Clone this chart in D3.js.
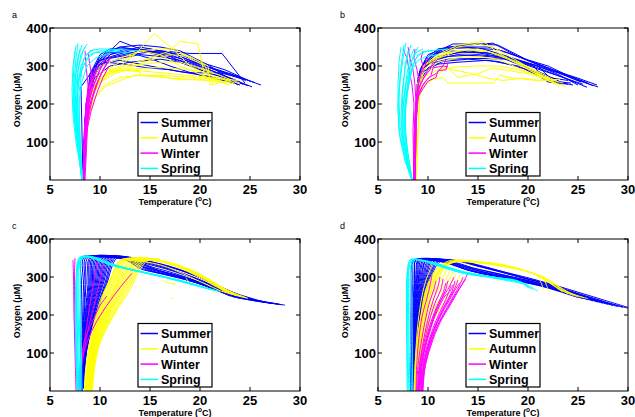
<!DOCTYPE html>
<html>
<head>
<meta charset="utf-8">
<script src="https://cdn.jsdelivr.net/npm/d3@7/dist/d3.min.js"></script>
<style>
  html, body { margin: 0; padding: 0; background: #fff; }
  svg { display: block; }
  text { font-family: "Liberation Sans", Arial, Helvetica, sans-serif; }
</style>
</head>
<body>
<svg id="chart" width="635" height="417"></svg>
<script>
// ---- shared labels ----
const seasons = ["Summer", "Autumn", "Winter", "Spring"];
const seasonColors = ["#0000ff", "#ffff00", "#ff00ff", "#00ffff"];
const tempTicks = [5, 10, 15, 20, 25, 30];
const oxygenTicks = [100, 200, 300, 400];
const panelLetters = ["a", "b", "c", "d"];

// ---- profiles: each is a list of [temperature °C, oxygen µM], surface to depth ----
// panel a (observed)
const aSummer = [
  [[26.1,250],[24,270],[21,295],[18,320],[15,338],[12.5,345],[11,330],[10,300],[9.2,260],[8.7,180],[8.4,80],[8.3,0]],
  [[25.2,245],[23,268],[20,300],[17,330],[14,345],[12,365],[11,340],[9.8,310],[9,250],[8.6,150],[8.3,0]],
  [[24.5,255],[22.2,333],[19,333],[16,340],[13,330],[11,320],[9.5,290],[8.8,220],[8.4,100],[8.3,0]],
  [[24.6,262],[22,285],[19.5,310],[17,335],[15,345],[13,340],[10.5,320],[9.3,285],[8.7,200],[8.3,0]],
  [[24,258],[21,290],[18,315],[16,325],[14,330],[12,320],[10,300],[9,250],[8.5,150],[8.3,0]],
  [[23.5,262],[21,280],[19,300],[17,320],[15,335],[13,345],[11,345],[10,330],[9,280],[8.5,160],[8.3,0]],
  [[24.2,268],[22,282],[19,282],[18,285],[15,300],[12,315],[10,305],[9,260],[8.5,140],[8.3,0]],
  [[23.8,250],[21,300],[18,340],[16,350],[14,355],[12,350],[10.5,335],[9.5,300],[8.8,230],[8.4,100],[8.3,0]],
  [[25,260],[22.5,290],[20,310],[18,330],[16,340],[14,350],[11,330],[9.5,280],[8.7,180],[8.3,0]],
  [[24.3,252],[22,275],[20,295],[18,310],[16,318],[13,310],[11,300],[9.5,270],[8.9,240],[8.5,120],[8.3,0]],
  [[23.5,255],[21,270],[19,283],[17,300],[15,320],[13,335],[11,335],[9.5,300],[8.7,200],[8.3,0]],
  [[24.8,248],[23,265],[20,290],[17,325],[14.5,340],[12,350],[10,325],[9,270],[8.5,160],[8.3,0]],
  [[25.5,256],[23,280],[20,305],[18,325],[17,335],[14,340],[11.5,325],[10,315],[9.3,290],[8.1,245],[8.3,0]],
  [[24,250],[22,268],[19,281],[17,290],[14.5,296],[12.5,305],[10.5,310],[9.2,280],[8.6,200],[8.3,0]]
];
const aAutumn = [
  [[23.5,255],[21,275],[19,300],[17.5,340],[15.4,385],[13.5,330],[12,300],[10.5,280],[9.5,250],[8.8,190],[8.4,80],[8.3,0]],
  [[23.3,253],[20.5,270],[19.8,358],[18,365],[17,340],[15,320],[13,305],[11,290],[9.5,250],[8.7,170],[8.3,0]],
  [[23,262],[21,250],[20.8,300],[19,325],[17,330],[15,315],[13,295],[11,280],[9.8,250],[8.8,200],[8.4,0]],
  [[22.5,258],[20,263],[17,268],[14,275],[12,270],[10.5,250],[9.5,220],[8.8,160],[8.4,0]],
  [[23.8,262],[21.5,268],[19,275],[17,280],[15,285],[13,290],[11,285],[10,265],[9,220],[8.5,100],[8.4,0]],
  [[22,270],[20,264],[18,264],[15.5,275],[14,275],[14,285],[12,290],[10.5,275],[9.3,240],[8.6,150],[8.4,0]],
  [[24,255],[22,275],[20,295],[18,310],[16,310],[13,300],[11,285],[9.5,245],[8.7,160],[8.3,0]],
  [[23,250],[21.5,262],[18,300],[16,330],[14,340],[12,320],[10,300],[9,250],[8.5,120],[8.3,0]],
  [[21.3,252],[20.5,300],[19,320],[17.5,345],[16,345],[14,340],[12,310],[10,280],[9,230],[8.5,130],[8.3,0]],
  [[22,265],[19,270],[16.5,275],[13.5,276],[12,262],[10.5,245],[9.3,210],[8.7,140],[8.4,0]],
  [[21.5,280],[19,290],[16,296],[13,292],[11.5,280],[10.3,262],[9.4,232],[8.8,180],[8.4,0]]
];
const aWinter = [
  [[11.1,325],[10.5,300],[9.8,260],[9.2,210],[8.8,160],[8.5,100],[8.4,0]],
  [[11,318],[10.3,290],[9.6,250],[9,200],[8.7,150],[8.4,0]],
  [[10.8,310],[10.1,280],[9.5,240],[8.9,190],[8.6,140],[8.4,0]],
  [[10.6,322],[10,290],[9.4,250],[8.9,210],[8.6,160],[8.4,0]],
  [[10.3,305],[9.8,280],[9.2,240],[8.8,190],[8.5,120],[8.35,0]],
  [[10,312],[9.6,290],[9.1,250],[8.7,200],[8.5,140],[8.35,0]],
  [[9.8,300],[9.4,270],[9,230],[8.7,180],[8.4,0]],
  [[9.5,295],[9.1,260],[8.8,220],[8.5,150],[8.35,0]],
  [[9.2,285],[8.9,250],[8.6,200],[8.4,120],[8.3,0]],
  [[8.5,340],[8.6,300],[8.8,250],[8.6,180],[8.4,0]],
  [[8.8,335],[9,300],[9.2,270],[8.9,220],[8.5,0]],
  [[10.9,300],[10.3,270],[9.7,230],[9.1,180],[8.6,120],[8.4,0]]
];
const aSpring = [
  [[7.8,360],[7.6,320],[7.4,260],[7.3,200],[7.5,140],[7.9,60],[8.2,0]],
  [[8.2,355],[7.9,330],[7.6,280],[7.4,220],[7.5,160],[7.8,80],[8.2,0]],
  [[8.7,358],[8.3,340],[7.9,300],[7.6,250],[7.5,180],[7.8,100],[8.2,0]],
  [[7.5,340],[7.3,300],[7.2,240],[7.3,170],[7.6,100],[8,40],[8.2,0]],
  [[12,340],[10,340],[9,330],[8.3,300],[7.8,250],[7.6,180],[7.9,80],[8.2,0]],
  [[14,340],[12,343],[10,345],[9,340],[8.4,320],[7.9,270],[7.6,200],[7.8,120],[8.2,0]],
  [[8.5,350],[8.1,330],[7.8,290],[7.7,230],[7.8,160],[8,80],[8.25,0]],
  [[9.5,345],[8.6,330],[8.1,300],[7.8,250],[7.7,190],[7.9,100],[8.2,0]],
  [[8,345],[7.7,310],[7.5,260],[7.5,200],[7.7,130],[8,50],[8.2,0]],
  [[11,335],[9.5,320],[8.7,300],[8.2,260],[7.9,200],[8,120],[8.2,0]],
  [[7.6,355],[7.4,310],[7.3,250],[7.4,190],[7.7,110],[8.1,30],[8.2,0]],
  [[13,335],[11,338],[9.5,335],[8.7,320],[8.2,290],[7.9,230],[7.9,150],[8.1,60],[8.25,0]]
];

// panel b (observed)
const bSummer = [
  [[27,245],[25,262],[22,295],[20,315],[17,355],[15,358],[12.5,358],[11,340],[10,315],[9.2,280],[8.9,220],[8.7,100],[8.6,0]],
  [[26.9,250],[25,268],[23,285],[21,305],[18,335],[16,350],[13,350],[11,335],[9.5,300],[8.9,230],[8.7,0]],
  [[25.9,244],[24,265],[22,285],[20,305],[17,330],[14,340],[12,330],[10.5,315],[9.3,290],[8.8,200],[8.6,0]],
  [[25.5,252],[23.5,270],[21,292],[18,320],[16,335],[13,335],[11,325],[9.8,305],[9,260],[8.7,120],[8.6,0]],
  [[24.5,250],[22.5,260],[21,300],[19,315],[16,325],[13,330],[11,320],[9.5,295],[8.9,250],[8.7,0]],
  [[24.3,255],[22,262],[20.5,300],[18,318],[15,320],[12,318],[10,305],[9.2,270],[8.8,180],[8.6,0]],
  [[24,252],[22,258],[21,275],[19,300],[16,315],[13,310],[11,305],[9.5,285],[8.9,230],[8.7,0]],
  [[23.5,255],[21.5,280],[19,305],[17,325],[15,335],[12,340],[10.5,330],[9.5,305],[8.9,250],[8.7,0]],
  [[26,255],[24,275],[22,300],[19.5,320],[17,343],[14,348],[11.5,345],[10,330],[9.2,290],[8.8,200],[8.6,0]],
  [[25,250],[23,278],[21,300],[18,325],[15.5,345],[13,352],[11,345],[9.8,320],[9.1,280],[8.8,150],[8.7,0]],
  [[24,262],[22.5,268],[20,290],[17,312],[14,318],[11.5,312],[10,295],[9.2,260],[8.8,160],[8.6,0]],
  [[25.3,258],[23,282],[20.5,303],[18,322],[15,330],[12,325],[10,310],[9,270],[8.7,150],[8.6,0]],
  [[26.5,248],[24.5,270],[22,292],[19,325],[16.5,360],[14,355],[12,350],[10.5,330],[9.4,300],[8.9,240],[8.7,0]]
];
const bAutumn = [
  [[23.8,245],[22,262],[20.5,263],[18,270],[17.2,276],[16.5,255],[14,255],[12,255],[11.5,270],[10.5,265],[9.5,245],[8.9,200],[8.7,0]],
  [[23.5,255],[21.5,270],[19,305],[17,335],[15.5,365],[13,355],[11,330],[9.5,300],[8.9,240],[8.7,0]],
  [[23,258],[21,285],[19,310],[17,330],[15,345],[13,340],[11,320],[9.5,290],[8.9,230],[8.7,0]],
  [[22.5,262],[21,275],[19,290],[17,300],[15,300],[13,298],[11,290],[9.5,270],[8.9,220],[8.7,0]],
  [[23,250],[21.5,268],[19,295],[17,318],[15,325],[13,322],[11,310],[9.5,280],[8.8,200],[8.7,0]],
  [[22,265],[20,280],[18,288],[16.5,295],[15,280],[13,270],[12,295],[11,280],[10,260],[9.2,230],[8.8,0]],
  [[21.8,268],[20,295],[18,318],[16,338],[14,342],[12,335],[10.5,315],[9.3,280],[8.8,200],[8.7,0]],
  [[23.2,265],[21,262],[19.5,268],[17.5,262],[16,268],[14,282],[12.5,290],[11,300],[10,285],[9.2,250],[8.8,0]],
  [[22.8,255],[20.5,290],[18.5,320],[16.5,350],[15,358],[13,350],[11,325],[9.6,300],[8.9,250],[8.7,0]]
];
const bWinter = [
  [[12,310],[11.8,290],[11,288],[10.8,270],[10,260],[9.5,240],[9,220],[8.8,150],[8.7,0]],
  [[11.8,318],[11.5,300],[10.5,295],[10.3,275],[9.6,255],[9.1,230],[8.8,180],[8.7,0]],
  [[12,298],[11.5,300],[10.8,280],[10,268],[9.4,245],[8.9,210],[8.7,0]],
  [[11,320],[10.6,305],[10,290],[9.5,265],[9,235],[8.7,180],[8.6,0]],
  [[9.5,340],[9.3,320],[9.5,300],[9.2,270],[8.9,240],[8.7,160],[8.6,0]],
  [[7.5,345],[7.9,320],[8.1,290],[8.4,250],[8.6,200],[8.5,130],[8.6,0]],
  [[8,350],[8.2,320],[8.5,290],[8.7,250],[8.8,200],[8.6,0]],
  [[10.5,310],[10.2,290],[9.6,270],[9.2,250],[8.9,220],[8.7,150],[8.6,0]],
  [[8.7,345],[8.6,320],[8.9,290],[9.1,260],[8.9,220],[8.6,120],[8.6,0]],
  [[10,325],[9.7,300],[9.3,280],[9,250],[8.8,200],[8.7,0]]
];
const bSpring = [
  [[7.8,361],[7.5,320],[7.2,260],[7,200],[7.1,130],[7.5,80],[8.1,20],[8.4,0]],
  [[8.3,355],[8,330],[7.7,290],[7.4,230],[7.3,160],[7.6,90],[8.2,20],[8.4,0]],
  [[7.3,350],[7.1,310],[7,250],[7,180],[7.2,110],[7.7,50],[8.4,0]],
  [[9,350],[8.6,330],[8.2,300],[7.8,250],[7.5,190],[7.5,120],[8,40],[8.4,0]],
  [[10.5,340],[9.5,338],[8.8,320],[8.2,280],[7.8,220],[7.6,150],[7.9,60],[8.4,0]],
  [[11,330],[9.8,325],[9,315],[8.4,290],[8,240],[7.7,180],[7.8,100],[8.3,20],[8.4,0]],
  [[8.6,345],[8.2,320],[7.9,280],[7.6,220],[7.4,150],[7.6,90],[8.1,30],[8.4,0]],
  [[7.6,355],[7.4,320],[7.2,270],[7.1,210],[7.2,140],[7.5,100],[8,40],[8.4,0]],
  [[9.5,345],[8.8,335],[8.3,310],[8,260],[7.7,200],[7.6,130],[8,50],[8.4,0]],
  [[8,340],[7.7,300],[7.5,240],[7.4,170],[7.4,100],[7.9,40],[8.4,0]],
  [[12,345],[10,340],[9,330],[8.5,305],[8.1,260],[7.8,200],[7.7,140],[8,70],[8.4,0]]
];

// panel c (model)
const cSummer = [
  [[28.5,226],[27,232],[25,242],[23,258],[21,280],[19,302],[17,322],[15,338],[13,350],[11.7,350],[10.65,280],[9.7,210],[8.7,110],[8.3,10],[8.2,0]],
  [[28,228],[26.5,234],[25,245],[23,262],[21,287],[19,310],[17,328],[15,341],[13,351],[11.4,351],[10.45,280],[9.6,210],[8.65,110],[8.3,10],[8.2,0]],
  [[27.5,230],[26,236],[24.5,246],[22.5,262],[20.5,285],[18.5,305],[16.5,322],[14.5,336],[12.8,350],[11.1,351],[10.2,280],[9.45,210],[8.65,110],[8.28,10],[8.2,0]],
  [[27,231],[25.5,238],[24,249],[22,270],[20,293],[18,312],[16,328],[14,342],[12.5,351],[10.8,351],[10,280],[9.3,210],[8.6,110],[8.27,10],[8.2,0]],
  [[26.5,233],[25,240],[23.5,250],[21.5,268],[19.5,288],[17.5,305],[15.5,320],[13.8,338],[12.2,350],[10.5,351],[9.8,280],[9.2,210],[8.55,110],[8.27,10],[8.2,0]],
  [[26,235],[24.5,243],[23,256],[21,276],[19,296],[17,313],[15,328],[13.5,344],[12,352],[10.2,352],[9.6,280],[9.05,210],[8.5,110],[8.26,10],[8.2,0]],
  [[25.5,237],[24,246],[22.5,258],[20.5,277],[18.5,294],[16.5,308],[14.8,320],[13.3,340],[11.8,352],[9.9,352],[9.4,280],[8.9,210],[8.45,110],[8.25,10],[8.2,0]],
  [[25,239],[23.5,249],[22,264],[20,285],[18,302],[16,316],[14.5,326],[13,344],[11.5,352],[9.6,352],[9.2,280],[8.8,210],[8.4,110],[8.24,10],[8.2,0]],
  [[24.5,241],[23,252],[21.5,268],[19.5,286],[17.5,300],[15.5,312],[14,322],[12.8,342],[11.2,353],[9.3,352],[9,280],[8.7,210],[8.35,110],[8.23,10],[8.18,0]],
  [[24,243],[22.5,256],[21,272],[19,290],[17,304],[15,316],[13.8,328],[12.5,345],[10.8,353],[9,352],[8.8,280],[8.55,210],[8.3,110],[8.22,10],[8.18,0]],
  [[23.5,246],[22,262],[20.5,280],[18.5,296],[16.5,310],[14.8,322],[13.5,335],[12.2,348],[10.4,353],[8.8,352],[8.6,280],[8.45,210],[8.28,110],[8.2,10],[8.17,0]],
  [[23,250],[21.5,268],[20,286],[18,302],[16,316],[14.5,330],[13.2,340],[12,350],[10,353],[8.6,352],[8.5,280],[8.38,210],[8.25,110],[8.2,10],[8.16,0]],
  [[28.2,227],[26,236],[24,252],[22,275],[20,298],[18,318],[16,334],[14,346],[12,353],[9.8,354],[8.4,352],[8.35,280],[8.28,210],[8.2,110],[8.15,0]],
  [[27.8,229],[25.5,240],[23.5,255],[21.5,280],[19.5,304],[17.5,322],[15.5,336],[13.5,348],[11.5,354],[9.5,354],[8.2,352],[8.15,280],[8.1,200],[8.08,100],[8.1,0]],
  [[13.2,351],[11.55,351],[10.55,280],[9.65,210],[8.68,110],[8.3,10],[8.2,0]],
  [[13,351],[11.25,351],[10.3,280],[9.5,210],[8.65,110],[8.29,10],[8.2,0]],
  [[12.8,352],[10.95,351],[10.1,280],[9.4,210],[8.62,110],[8.28,10],[8.2,0]],
  [[12.6,352],[10.65,351],[9.9,280],[9.25,210],[8.58,110],[8.27,10],[8.2,0]],
  [[12.4,352],[10.35,352],[9.7,280],[9.12,210],[8.52,110],[8.26,10],[8.2,0]],
  [[12.2,352],[10.05,352],[9.5,280],[8.98,210],[8.48,110],[8.25,10],[8.2,0]],
  [[12,353],[9.75,352],[9.3,280],[8.85,210],[8.42,110],[8.24,10],[8.2,0]],
  [[11.8,353],[9.45,352],[9.1,280],[8.75,210],[8.38,110],[8.23,10],[8.18,0]],
  [[11.6,353],[9.15,352],[8.9,280],[8.62,210],[8.32,110],[8.22,10],[8.18,0]]
];
const cAutumn = [
  [[24.7,245],[23,258],[21.5,276],[20,298],[18.5,318],[17,334],[15.5,343],[14.7,342],[13.8,310],[13,266],[11.7,213],[10,126],[9.4,50],[9.25,0]],
  [[24.5,247],[23,262],[21.5,282],[20,304],[18.5,322],[17,336],[15.5,344],[14.4,343],[13.5,310],[12.7,268],[11.5,215],[9.9,128],[9.3,50],[9.2,0]],
  [[24.2,248],[22.5,266],[21,288],[19.5,308],[18,324],[16.5,337],[15,344],[14.1,343],[13.2,310],[12.4,268],[11.2,215],[9.8,130],[9.25,50],[9.15,0]],
  [[24,250],[22.5,268],[21,292],[19.5,312],[18,328],[16.5,340],[15,345],[13.8,343],[12.9,308],[12.1,266],[11,215],[9.7,132],[9.2,50],[9.1,0]],
  [[23.8,251],[22,274],[20.5,296],[19,316],[17.5,331],[16,342],[14.5,346],[13.5,343],[12.6,308],[11.8,266],[10.8,214],[9.6,132],[9.1,50],[9,0]],
  [[23.5,252],[22,276],[20.5,300],[19,320],[17.5,334],[16,343],[14.3,346],[13.2,344],[12.3,306],[11.5,264],[10.6,214],[9.5,134],[9.05,50],[8.95,0]],
  [[23.2,254],[21.5,280],[20,302],[18.5,322],[17,336],[15.5,344],[14,346],[12.9,344],[12,306],[11.3,262],[10.4,212],[9.4,134],[8.95,50],[8.85,0]],
  [[23,256],[21.5,284],[20,306],[18.5,324],[17,338],[15.5,345],[13.8,347],[12.6,345],[11.7,304],[11,262],[10.2,212],[9.3,134],[8.85,50],[8.75,0]],
  [[22.8,258],[21,286],[19.5,308],[18,326],[16.5,339],[15,346],[13.5,347],[12.3,345],[11.4,302],[10.7,260],[10,210],[9.2,132],[8.75,50],[8.65,0]],
  [[22.5,260],[21,290],[19.5,312],[18,328],[16.5,340],[15,346],[13.3,347],[12,345],[11.1,300],[10.4,258],[9.8,208],[9.1,130],[8.65,50],[8.55,0]],
  [[24.8,244],[23.5,252],[22,264],[20.5,282],[19,300],[17.5,318],[16,332],[14.5,340],[13.2,343],[12.2,342],[11,292],[10.2,250],[9.6,200],[8.9,120],[8.5,40],[8.45,0]],
  [[16,343],[14.55,343],[13.65,310],[12.85,267],[11.6,214],[9.95,127],[9.35,50],[9.22,0]],
  [[16,344],[14.25,343],[13.35,310],[12.55,268],[11.35,215],[9.85,129],[9.27,50],[9.17,0]],
  [[16,344],[13.95,343],[13.05,309],[12.25,267],[11.1,215],[9.75,131],[9.22,50],[9.12,0]],
  [[16,345],[13.65,343],[12.75,308],[11.95,266],[10.9,214],[9.65,132],[9.15,50],[9.05,0]],
  [[16,345],[13.35,344],[12.45,307],[11.65,265],[10.7,214],[9.55,133],[9.07,50],[8.97,0]],
  [[16,346],[13.05,344],[12.15,306],[11.4,263],[10.5,213],[9.45,134],[9,50],[8.9,0]],
  [[16,346],[12.75,345],[11.85,305],[11.15,262],[10.3,212],[9.35,134],[8.9,50],[8.8,0]],
  [[16,346],[12.45,345],[11.55,303],[10.85,261],[10.1,211],[9.25,133],[8.8,50],[8.7,0]],
  [[16,346],[12.15,345],[11.25,301],[10.55,259],[9.9,209],[9.15,131],[8.7,50],[8.6,0]],
  [[17.1,245],[17.3,243]],
  [[16.2,292],[16.8,284],[17.6,281]],
  [[18.6,298],[19,284],[19.6,279]]
];
const cWinter = [
  [[7.3,345],[7.35,300],[7.4,200],[7.5,100],[7.6,0]],
  [[7.5,350],[7.45,300],[7.5,200],[7.6,100],[7.75,0]],
  [[13.2,310],[12,272],[10.6,222],[9.4,170],[8.5,112],[8,60],[7.75,0]],
  [[10.7,250],[10,225],[9.2,180],[8.5,135],[8,70],[7.8,0]],
  [[9.8,345],[9.4,290],[9,230],[8.6,160],[8.1,70],[7.85,0]],
  [[10.4,340],[9.9,280],[9.4,225],[8.8,160],[8.2,70],[7.9,0]]
];
const cSpring = [
  [[21.5,264],[20,275],[18,290],[16,303],[14,314],[12.5,322],[11,332],[9.5,348],[8.3,352],[7.8,330],[7.7,250],[7.75,150],[7.85,50],[7.9,0]],
  [[21,268],[19.5,278],[17.5,292],[15.5,305],[13.5,316],[12,326],[10.6,336],[9.2,350],[8.2,352],[7.75,320],[7.65,240],[7.7,140],[7.8,40],[7.85,0]],
  [[20.5,272],[19,282],[17,296],[15,308],[13,320],[11.5,330],[10.2,340],[9,352],[8.1,352],[7.7,310],[7.6,230],[7.65,130],[7.75,40],[7.8,0]],
  [[22,262],[20.5,272],[18.5,288],[16.5,300],[14.5,312],[12.8,322],[11.2,334],[9.8,350],[8.4,354],[7.9,335],[7.8,260],[7.85,160],[7.95,60],[8,0]],
  [[20,276],[18.5,286],[16.5,299],[14.5,311],[12.5,324],[11,335],[9.8,346],[8.8,354],[8,352],[7.65,300],[7.55,210],[7.6,120],[7.7,40],[7.75,0]],
  [[21.2,266],[19.5,280],[17.5,294],[15.5,306],[13.5,318],[11.8,328],[10.4,340],[9.2,352],[8.5,354],[8,340],[7.9,270],[7.95,170],[8.05,70],[8.1,0]],
  [[19.5,280],[18,290],[16,302],[14,314],[12.2,326],[10.8,338],[9.6,348],[8.6,353],[7.9,350],[7.6,290],[7.55,200],[7.6,100],[7.7,0]],
  [[21.8,263],[20.2,274],[18.2,289],[16.2,302],[14.2,313],[12.4,324],[11,334],[9.6,349],[8.6,355],[8.15,345],[8.05,280],[8.05,180],[8.15,80],[8.2,0]]
];

// panel d (model)
const dSummer = [
  [[30,218],[28,232],[26,248],[24,265],[22,282],[20,295],[18,310],[16,325],[14,338],[12.5,344],[11.2,340],[10.3,300],[9.4,222],[8.75,90],[8.6,0]],
  [[29.5,220],[27.5,236],[25.5,252],[23.5,268],[21.5,284],[19.5,297],[17.5,312],[15.5,326],[13.5,340],[12,345],[10.9,341],[10.1,300],[9.3,222],[8.72,90],[8.58,0]],
  [[29,222],[27,238],[25,255],[23,272],[21,288],[19,301],[17,315],[15,328],[13,342],[11.7,345],[10.6,342],[9.9,300],[9.2,222],[8.7,90],[8.55,0]],
  [[28.5,225],[26.5,241],[24.5,258],[22.5,274],[20.5,288],[18.5,300],[16.5,312],[14.5,324],[12.8,338],[11.4,344],[10.3,343],[9.7,300],[9.1,222],[8.65,90],[8.52,0]],
  [[28,228],[26,244],[24,261],[22,277],[20,290],[18,302],[16,314],[14,326],[12.5,338],[11.1,345],[10,343],[9.5,300],[9,222],[8.6,90],[8.5,0]],
  [[27.5,231],[25.5,247],[23.5,264],[21.5,279],[19.5,291],[17.5,303],[15.5,314],[13.8,326],[12.2,339],[10.8,345],[9.8,344],[9.3,300],[8.9,222],[8.55,90],[8.47,0]],
  [[27,234],[25,251],[23,267],[21,281],[19,293],[17,304],[15,316],[13.5,328],[12,340],[10.5,345],[9.5,344],[9.1,300],[8.8,222],[8.5,90],[8.45,0]],
  [[26.5,237],[24.5,254],[22.5,270],[20.5,283],[18.5,294],[16.5,305],[14.5,317],[13,330],[11.7,341],[10.2,345],[9.2,345],[8.95,300],[8.7,222],[8.45,90],[8.42,0]],
  [[26,240],[24,257],[22,273],[20,285],[18,296],[16,307],[14,318],[12.7,331],[11.4,342],[10,346],[9,345],[8.8,300],[8.6,222],[8.4,90],[8.4,0]],
  [[25.5,243],[23.5,260],[21.5,276],[19.5,287],[17.5,298],[15.5,309],[13.8,320],[12.4,333],[11.1,342],[9.8,346],[8.8,345],[8.65,300],[8.5,222],[8.35,90],[8.35,0]],
  [[25,246],[23,263],[21,278],[19,289],[17,300],[15,311],[13.5,322],[12.2,334],[10.8,343],[9.6,346],[8.6,345],[8.5,300],[8.4,222],[8.3,90],[8.3,0]],
  [[30,220],[27.5,240],[25,260],[22.5,280],[20,298],[17.5,314],[15,330],[13,343],[11,347],[9.4,346],[8.5,344],[8.4,300],[8.3,222],[8.25,90],[8.25,0]],
  [[12.5,344],[11.05,341],[10.2,300],[9.35,222],[8.73,90],[8.59,0]],
  [[12.3,345],[10.75,342],[10,300],[9.25,222],[8.7,90],[8.56,0]],
  [[12.1,345],[10.45,343],[9.8,300],[9.15,222],[8.67,90],[8.53,0]],
  [[11.9,345],[10.15,343],[9.6,300],[9.05,222],[8.62,90],[8.5,0]],
  [[11.7,345],[9.85,344],[9.4,300],[8.95,222],[8.57,90],[8.47,0]],
  [[11.5,346],[9.65,344],[9.2,300],[8.85,222],[8.52,90],[8.44,0]],
  [[11.3,346],[9.35,345],[9.05,300],[8.75,222],[8.47,90],[8.41,0]],
  [[11.1,346],[9.1,345],[8.88,300],[8.65,222],[8.42,90],[8.38,0]],
  [[10.9,346],[8.8,345],[8.7,300],[8.55,222],[8.37,90],[8.33,0]]
];
const dAutumn = [
  [[26,243],[24.5,255],[23,275],[22,292],[21,305],[19.5,318],[17.5,328],[15.5,336],[13.8,340],[12.5,338],[11.5,320],[10.6,280],[9.9,220],[9.4,140],[9.2,60],[9.15,0]],
  [[25.5,246],[24,260],[22.8,280],[21.8,296],[20.5,310],[19,320],[17,330],[15,338],[13.5,341],[12.2,336],[11.2,316],[10.4,276],[9.8,218],[9.3,140],[9.1,60],[9.05,0]],
  [[25,248],[23.5,264],[22.5,285],[21.5,300],[20,314],[18.5,324],[16.5,334],[14.5,340],[13.2,342],[12,334],[11,312],[10.2,272],[9.6,214],[9.2,140],[9,60],[8.95,0]],
  [[24.5,252],[23,270],[22,290],[21,304],[19.5,318],[18,328],[16,337],[14,342],[12.9,343],[11.7,332],[10.8,308],[10,268],[9.5,210],[9.1,140],[8.9,60],[8.85,0]],
  [[24,256],[22.8,274],[21.8,292],[20.8,306],[19,322],[17.5,332],[15.5,339],[13.8,343],[12.6,343],[11.4,330],[10.5,304],[9.8,264],[9.4,206],[9,140],[8.8,60],[8.75,0]],
  [[23.5,260],[22.5,278],[21.5,295],[20.5,309],[18.5,326],[16.5,336],[14.5,341],[13.5,344],[12.3,344],[11.1,328],[10.3,300],[9.7,260],[9.3,200],[8.95,140],[8.7,60],[8.65,0]],
  [[13.5,300],[13.2,285],[12.5,262],[11.5,228],[10.5,185],[9.7,130],[9.2,60],[9.1,0]],
  [[12.8,310],[12.5,292],[11.8,268],[10.9,230],[10,180],[9.4,120],[9.05,50],[9,0]],
  [[12.2,318],[11.9,300],[11.2,275],[10.4,235],[9.7,180],[9.2,110],[8.95,40],[8.9,0]],
  [[11.6,324],[11.3,308],[10.7,282],[10,240],[9.4,180],[9,100],[8.85,30],[8.8,0]],
  [[11,330],[10.7,314],[10.2,288],[9.7,245],[9.2,180],[8.9,100],[8.75,30],[8.7,0]],
  [[10.4,334],[10.2,318],[9.8,292],[9.4,250],[9,180],[8.75,90],[8.6,0]],
  [[13.2,305],[12.9,288],[12.2,265],[11.2,229],[10.25,182],[9.55,125],[9.12,55],[9.05,0]],
  [[12.5,314],[12.2,296],[11.5,271],[10.65,232],[9.85,180],[9.3,115],[9,45],[8.95,0]],
  [[11.9,321],[11.6,304],[10.95,278],[10.2,237],[9.55,180],[9.1,105],[8.9,35],[8.85,0]],
  [[11.3,327],[11,311],[10.45,285],[9.85,242],[9.3,180],[8.95,100],[8.8,30],[8.75,0]],
  [[21,305],[21.3,285],[21.6,265]],
  [[21.6,296],[21.9,275],[22.2,258]]
];
const dWinter = [
  [[14,310],[13.6,290],[13,262],[12.2,225],[11.2,180],[10.3,120],[9.7,60],[9.5,0]],
  [[13.5,300],[13.2,280],[12.6,252],[11.8,215],[10.9,170],[10.1,115],[9.6,55],[9.4,0]],
  [[13.2,285],[12.8,270],[12.2,242],[11.4,205],[10.6,160],[9.9,105],[9.5,50],[9.35,0]],
  [[12.7,290],[12.4,262],[11.8,232],[11.1,195],[10.4,150],[9.8,100],[9.4,45],[9.3,0]],
  [[12.3,278],[12,255],[11.5,225],[10.8,185],[10.2,142],[9.6,90],[9.3,40],[9.2,0]],
  [[12.6,300],[12,268],[11.3,240],[10.6,198],[10,145],[9.5,90],[9.2,40],[9.1,0]],
  [[11.8,285],[11.5,258],[11,230],[10.4,190],[9.8,138],[9.35,85],[9.1,35],[9.05,0]],
  [[11.2,300],[11,275],[10.6,245],[10.1,200],[9.6,140],[9.2,80],[9,30],[8.95,0]],
  [[10.8,290],[10.6,268],[10.2,238],[9.8,195],[9.4,140],[9.05,80],[8.9,30],[8.85,0]],
  [[10.4,305],[10.2,278],[9.9,245],[9.4,195],[9.1,140],[8.9,80],[8.8,0]],
  [[12.5,280],[12.2,262],[11.7,250],[11,215],[10.3,172],[9.7,118],[9.3,60],[9.15,0]],
  [[8.3,330],[8.3,280],[8.35,200],[8.4,100],[8.45,0]],
  [[13.8,295],[13.4,280],[12.8,256],[12,220],[11,175],[10.2,118],[9.65,58],[9.45,0]],
  [[13,292],[12.6,266],[12,238],[11.25,200],[10.5,155],[9.85,102],[9.45,48],[9.32,0]],
  [[12,290],[11.7,262],[11.2,234],[10.6,192],[10,140],[9.45,88],[9.2,38],[9.1,0]],
  [[11.5,295],[11.3,268],[10.8,238],[10.25,196],[9.7,139],[9.25,82],[9.05,32],[9,0]]
];
const dSpring = [
  [[20.5,266],[19.5,285],[17.5,294],[15.5,302],[13.5,310],[12,322],[10.5,336],[9.2,344],[8.4,345],[8.05,320],[7.95,240],[8,140],[8.05,40],[8.1,0]],
  [[20,272],[19,290],[17,298],[15,306],[13.2,314],[11.8,326],[10.3,338],[9,345],[8.3,345],[7.95,310],[7.9,220],[7.92,120],[7.98,30],[8,0]],
  [[19.5,282],[18.5,292],[16.5,300],[14.5,309],[13,318],[11.5,330],[10,340],[8.9,346],[8.2,345],[7.9,300],[7.85,200],[7.88,100],[7.92,0]],
  [[21,262],[19.8,280],[18,290],[16,300],[14,307],[12.4,318],[10.8,332],[9.5,343],[8.6,346],[8.3,330],[8.2,250],[8.22,150],[8.3,50],[8.35,0]],
  [[19,288],[17.5,296],[15.5,304],[13.5,313],[12,326],[10.6,338],[9.3,345],[8.5,346],[8.15,330],[8.05,260],[8.08,160],[8.15,60],[8.2,0]],
  [[20.2,270],[19.2,287],[17.2,297],[15.2,305],[13.3,312],[11.6,324],[10.2,337],[9,345],[8.7,346],[8.45,330],[8.4,250],[8.42,150],[8.45,50],[8.5,0]]
];

// ---- layout ----
const columns = [[50, 300], [378, 628]];   // x pixel range per column
const rows = [[180, 28], [391, 239]];      // y pixel range (bottom, top) per row

const panels = [
  { letter: panelLetters[0], col: 0, row: 0, smooth: false, series: [aSummer, aAutumn, aWinter, aSpring] },
  { letter: panelLetters[1], col: 1, row: 0, smooth: false, series: [bSummer, bAutumn, bWinter, bSpring] },
  { letter: panelLetters[2], col: 0, row: 1, smooth: true,  series: [cSummer, cAutumn, cWinter, cSpring] },
  { letter: panelLetters[3], col: 1, row: 1, smooth: true,  series: [dSummer, dAutumn, dWinter, dSpring] }
];

const svg = d3.select("#chart");
const FONT = '"Liberation Sans", Arial, Helvetica, sans-serif';

panels.forEach((p, i) => {
  const x = d3.scaleLinear().domain([5, 30]).range(columns[p.col]);
  const y = d3.scaleLinear().domain([0, 400]).range(rows[p.row]);
  const [x0, x1] = x.range();
  const [y0, y1] = y.range();

  const g = svg.append("g");

  const clipId = "clip" + i;
  svg.append("clipPath").attr("id", clipId)
    .append("rect").attr("x", x0).attr("y", y1).attr("width", x1 - x0).attr("height", y0 - y1);

  const line = d3.line()
    .x(d => x(d[0]))
    .y(d => y(d[1]))
    .curve(p.smooth ? d3.curveCatmullRom.alpha(0.5) : d3.curveLinear);

  const plot = g.append("g").attr("clip-path", `url(#${clipId})`);
  p.series.forEach((profiles, s) => {
    plot.append("g")
      .selectAll("path")
      .data(profiles)
      .join("path")
      .attr("d", line)
      .attr("fill", "none")
      .attr("stroke", seasonColors[s])
      .attr("stroke-width", 1)
      .attr("stroke-linejoin", "round");
  });

  // box
  g.append("rect")
    .attr("x", x0).attr("y", y1).attr("width", x1 - x0).attr("height", y0 - y1)
    .attr("fill", "none").attr("stroke", "#000").attr("stroke-width", 1);

  // inward ticks on all four sides
  const tk = 4;
  const ticks = g.append("g").attr("stroke", "#000").attr("stroke-width", 1);
  tempTicks.forEach(t => {
    ticks.append("line").attr("x1", x(t)).attr("x2", x(t)).attr("y1", y0).attr("y2", y0 - tk);
    ticks.append("line").attr("x1", x(t)).attr("x2", x(t)).attr("y1", y1).attr("y2", y1 + tk);
  });
  oxygenTicks.forEach(o => {
    ticks.append("line").attr("x1", x0).attr("x2", x0 + tk).attr("y1", y(o)).attr("y2", y(o));
    ticks.append("line").attr("x1", x1).attr("x2", x1 - tk).attr("y1", y(o)).attr("y2", y(o));
  });

  // tick labels
  g.append("g").selectAll("text").data(tempTicks).join("text")
    .attr("x", d => x(d)).attr("y", y0 + 13.5)
    .attr("text-anchor", "middle")
    .attr("font-size", 13).attr("font-weight", "bold").attr("font-family", FONT)
    .text(d => d);
  g.append("g").selectAll("text").data(oxygenTicks).join("text")
    .attr("x", x0 - 2).attr("y", d => y(d))
    .attr("dy", "0.36em")
    .attr("text-anchor", "end")
    .attr("font-size", 13).attr("font-weight", "bold").attr("font-family", FONT)
    .text(d => d);

  // axis titles
  const xt = g.append("text")
    .attr("x", (x0 + x1) / 2).attr("y", y0 + 25)
    .attr("text-anchor", "middle")
    .attr("font-size", 9).attr("font-weight", "bold").attr("font-family", FONT);
  xt.append("tspan").text("Temperature (");
  xt.append("tspan").attr("font-size", 6.5).attr("dy", -4).text("o");
  xt.append("tspan").attr("dy", 4).text("C)");

  g.append("text")
    .attr("transform", `translate(${x0 - 30},${y1 + 72}) rotate(-90)`)
    .attr("text-anchor", "middle")
    .attr("font-size", 9).attr("font-weight", "bold").attr("font-family", FONT)
    .text("Oxygen (\u03BCM)");

  // panel letter
  g.append("text")
    .attr("x", x0 - 38).attr("y", y1 - 10)
    .attr("font-size", 9).attr("font-family", FONT)
    .text(p.letter);

  // legend
  const lx = x0 + 88, ly = y1 + 84.5, lw = 74, lh = 63.5;
  const leg = g.append("g");
  leg.append("rect")
    .attr("x", lx).attr("y", ly).attr("width", lw).attr("height", lh)
    .attr("fill", "#fff").attr("stroke", "#000").attr("stroke-width", 1.2);
  seasons.forEach((name, s) => {
    const yy = ly + 10 + s * 15.3;
    leg.append("line")
      .attr("x1", lx + 2.5).attr("x2", lx + 20).attr("y1", yy).attr("y2", yy)
      .attr("stroke", seasonColors[s]).attr("stroke-width", 1.5);
    leg.append("text")
      .attr("x", lx + 23).attr("y", yy + 4.5)
      .attr("font-size", 12.5).attr("font-weight", "bold").attr("font-family", FONT)
      .text(name);
  });
});
</script>
</body>
</html>
